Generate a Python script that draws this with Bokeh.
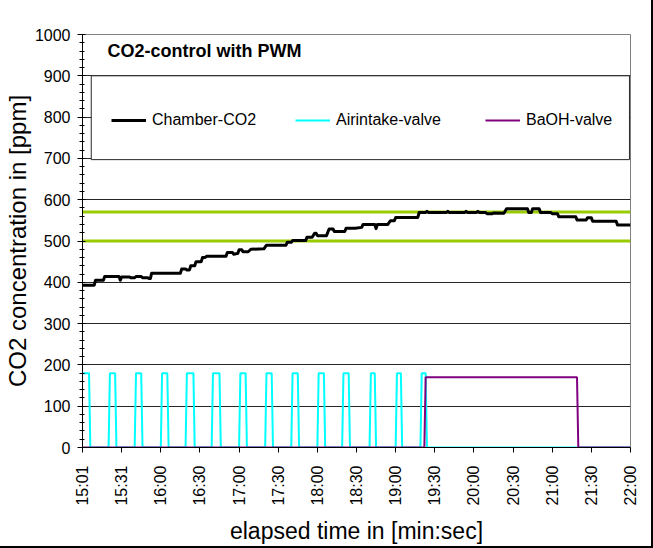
import math
from bokeh.plotting import figure
from bokeh.models import (Range1d, FixedTicker, SingleIntervalTicker, Span, BoxAnnotation,
                          Label, Legend, LegendItem)
from bokeh.embed import file_html
from bokeh.resources import INLINE

# ---- data (sample index along the category axis, 30 samples per tick) ----
x_ticks = [0, 30, 60, 90, 120, 150, 180, 210, 240, 270, 300, 330, 360, 390, 420]
x_labels = ["15:01", "15:31", "16:00", "16:30", "17:00", "17:30", "18:00", "18:30",
            "19:00", "19:30", "20:00", "20:30", "21:00", "21:30", "22:00"]

co2_sample = [0, 9, 10, 16, 17, 28, 29, 30, 36, 37, 40, 41, 45, 46, 50, 51, 52, 53, 75, 76,
              79, 80, 82, 83, 86, 87, 91, 92, 94, 95, 110, 111, 115, 116, 119, 120, 122, 123,
              127, 129, 139, 141, 156, 157, 160, 161, 171, 172, 176, 178, 179, 180, 187, 189,
              192, 193, 201, 202, 209, 214, 215, 224, 225, 226, 234, 236, 239, 240, 257, 258,
              263, 264, 265, 279, 280, 281, 293, 294, 295, 302, 303, 304, 309, 310, 314, 315,
              323, 325, 341, 342, 344, 345, 350, 351, 359, 360, 364, 365, 378, 379, 386, 387,
              390, 391, 409, 410, 420]
co2_ppm = [393, 393, 405, 405, 414, 414, 405, 413, 413, 411, 411, 414, 414, 411, 411, 409, 409,
           422, 422, 432, 432, 430, 430, 440, 440, 450, 450, 460, 460, 463, 463, 472, 472, 468,
           470, 479, 479, 474, 474, 480, 481, 490, 490, 497, 497, 501, 501, 509, 509, 519, 519,
           513, 513, 529, 529, 523, 523, 531, 531, 533, 540, 540, 530, 540, 540, 549, 549, 557,
           557, 569, 569, 572, 569, 569, 572, 569, 569, 572, 569, 569, 572, 569, 569, 566, 566,
           568, 567, 578, 578, 569, 569, 578, 578, 569, 569, 566, 566, 559, 559, 551, 551, 556,
           556, 548, 548, 539, 539]

# airintake valve PWM pulses: sample where the rise starts, last sample at full open
pulse_on = [0, 20, 40, 60, 79, 99, 120, 140, 160, 180, 199, 220, 240, 259]
pulse_off = [5, 25, 45, 65, 85, 105, 125, 145, 165, 185, 204, 224, 244, 263]
air_open = 180

baoh_on = 262
baoh_off = 379
baoh_open = 170

limits = [500, 570]

# ---- build valve traces from the pulse lists ----
air_x, air_y = [], []
for i, (a, b) in enumerate(zip(pulse_on, pulse_off)):
    if i == 0:
        air_x += [a, b, b + 1]
        air_y += [air_open, air_open, 0]
    else:
        air_x += [a, a + 1, b, b + 1]
        air_y += [0, air_open, air_open, 0]
air_x.append(x_ticks[-1])
air_y.append(0)

baoh_x = [x_ticks[0], baoh_on, baoh_on + 1, baoh_off, baoh_off + 1, x_ticks[-1]]
baoh_y = [0, 0, baoh_open, baoh_open, 0, 0]

FONT = "Liberation Sans"

p = figure(frame_width=548, frame_height=413,
           min_border_left=80, min_border_right=21, min_border_top=34, min_border_bottom=99,
           x_range=Range1d(x_ticks[0], x_ticks[-1]), y_range=Range1d(0, 1000),
           output_backend="svg", toolbar_location=None)
p.styles = {"outline": "2px solid black"}
p.background_fill_color = "white"
p.border_fill_color = "white"
p.outline_line_color = "#808080"
p.outline_line_width = 1

# axes
p.xaxis.ticker = FixedTicker(ticks=x_ticks)
p.xaxis.major_label_overrides = {t: l for t, l in zip(x_ticks, x_labels)}
p.xaxis.major_label_orientation = math.pi / 2
p.xaxis.major_tick_in = 0
p.xaxis.major_tick_out = 5
p.xaxis.major_label_standoff = 13
p.xaxis.axis_label = "elapsed time in [min:sec]"
p.xaxis.axis_label_standoff = 9

yt = SingleIntervalTicker(interval=100, num_minor_ticks=5)
p.yaxis.ticker = yt
p.yaxis.major_tick_in = 3
p.yaxis.major_tick_out = 5
p.yaxis.minor_tick_in = 2
p.yaxis.minor_tick_out = 3
p.yaxis.major_label_standoff = 7
p.yaxis.axis_label = "CO2 concentration in [ppm]"
p.yaxis.axis_label_standoff = 1

for ax in (p.xaxis[0], p.yaxis[0]):
    ax.axis_line_color = "black"
    ax.major_tick_line_color = "black"
    ax.major_label_text_font = FONT
    ax.major_label_text_font_size = "16px"
    ax.major_label_text_color = "black"
    ax.axis_label_text_font = FONT
    ax.axis_label_text_font_style = "normal"
    ax.axis_label_text_color = "black"
p.xaxis.minor_tick_line_color = None
p.yaxis.minor_tick_line_color = "black"
p.xaxis.axis_label_text_font_size = "23px"
p.yaxis.axis_label_text_font_size = "24px"

p.xgrid.visible = False
p.ygrid.ticker = yt
p.ygrid.grid_line_color = "#262626"
p.ygrid.grid_line_width = 1

for v in limits:
    p.add_layout(Span(location=v, dimension="width", line_color="#99CC00",
                      line_width=3, level="underlay"))

r_air = p.line(air_x, air_y, line_color="#00FFFF", line_width=2)
r_baoh = p.line(baoh_x, baoh_y, line_color="#800080", line_width=2)
r_co2 = p.line(co2_sample, co2_ppm, line_color="black", line_width=3, line_join="round")

# legend frame
p.add_layout(BoxAnnotation(left=6.7, right=419.2, bottom=697, top=900,
                           fill_color="white", fill_alpha=1.0,
                           line_color="#262626", line_width=1, line_alpha=1.0))

for lab, r, xpos in [("Chamber-CO2", r_co2, 29), ("Airintake-valve", r_air, 213),
                     ("BaOH-valve", r_baoh, 403)]:
    leg = Legend(items=[LegendItem(label=lab, renderers=[r])], location=(xpos, 317),
                 orientation="horizontal", padding=0, margin=0, spacing=0,
                 border_line_alpha=0, background_fill_alpha=0,
                 glyph_width=35, glyph_height=20, label_height=20, label_standoff=6,
                 label_text_font=FONT, label_text_font_size="16px",
                 label_text_color="black")
    p.add_layout(leg)

p.add_layout(Label(x=19.2, y=961, text="CO2-control with PWM", text_font=FONT,
                   text_font_size="18px", text_font_style="bold", text_color="black",
                   text_baseline="middle"))

open("out.html", "w").write(file_html(p, INLINE))
